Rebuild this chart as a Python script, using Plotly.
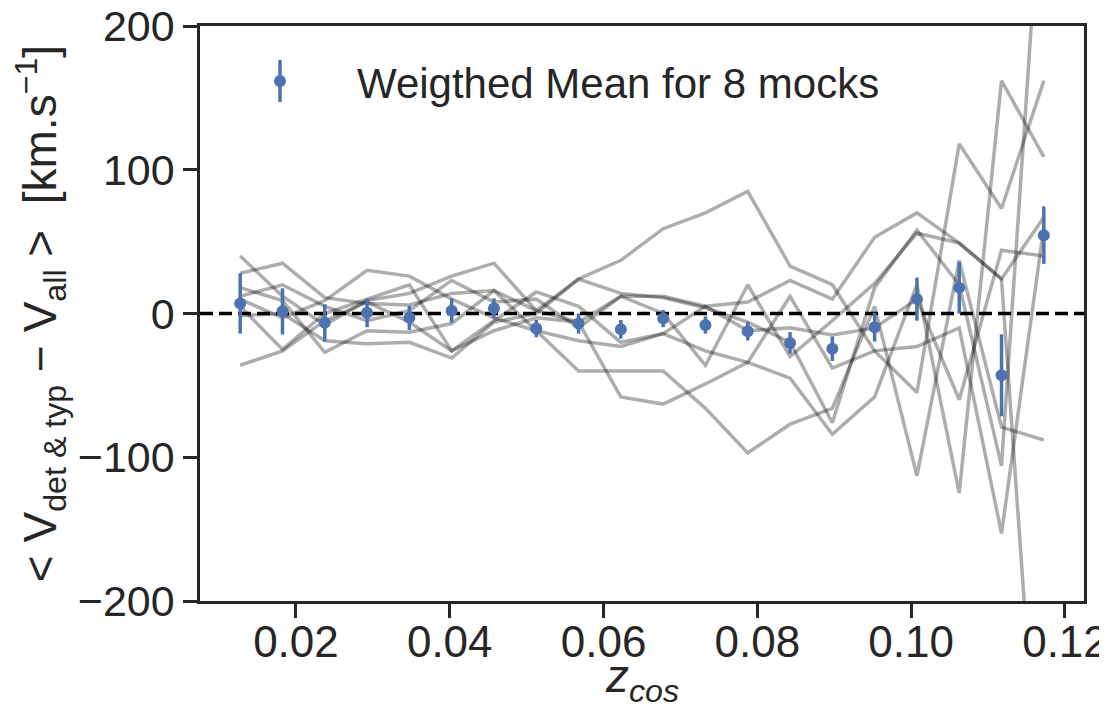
import plotly.graph_objects as go

# bin centres of z_cos (20 bins between 0.01 and 0.12)
z_bins = [0.01275, 0.01825, 0.02375, 0.02925, 0.03475, 0.04025, 0.04575, 0.05125,
          0.05675, 0.06225, 0.06775, 0.07325, 0.07875, 0.08425, 0.08975, 0.09525,
          0.10075, 0.10625, 0.11175, 0.11725]

# weighted mean over the 8 mocks and its uncertainty
mean_vals = [7, 1.5, -6.5, 0.5, -3, 2, 3.5, -10.5, -7, -11, -3.5, -8, -12.3, -20.5,
             -24.5, -9.5, 10, 18, -43, 54.5]
mean_errs = [21, 16, 13, 10, 8.5, 8.5, 7, 6, 7, 6.5, 6, 6, 6.5, 7.5, 8.5, 10, 15, 18,
             28.5, 20]

# individual mocks
mock1 = [28, 35, 11, 7, 6, 14, 16, 2, 24, 37, 59, 70, 85, 33, 20, -26, -55, 118, 73, 162]
mock2 = [40, 12, -8, 9, 14, 26, 35, 2, -6, 12, 12, 5, 8, 23, 10, 53, 70, 49, 24, 67]
mock3 = [18, 9, -27, -12, -13, -7, 16, -12, -19, -23, -14, -26, -34, -45, -84, -58, 20, -125, 162, 109]
mock4 = [10, -3, 9, 30, 26, 10, -3, -12, -40, -40, -40, -66, -97, -77, -66, 5, -113, 37, -79, -88]
mock5 = [-1.5, 0, -19, -21, -20, -31, -6, 0, 24, 14, 11, 4, -6, -20, -76, 18, 58, 20, -106, 330]
mock6 = [-36, -26, -5, 8, -6, -26, -12, -3, -6, -58, -63, -49, -34, 12, -38, -26, -23, -10, -153, 60]
mock7 = [12, 20, 5, -5, 2, 23, 8, 10, -10, 12, 0, -36, 20, -30, -5, 21, 56, 49, 24, -395]
mock8 = [5, -25, 0, 10, 20, -26, -5, 15, 5, -20, -14, 5, -12, -10, -15, -10, 10, -60, 44, 40]
mocks = [mock1, mock2, mock3, mock4, mock5, mock6, mock7, mock8]

x_ticks = [0.02, 0.04, 0.06, 0.08, 0.10, 0.12]
x_tick_labels = ["0.02", "0.04", "0.06", "0.08", "0.10", "0.12"]
y_ticks = [-200, -100, 0, 100, 200]
y_tick_labels = ["\u2212200", "\u2212100", "0", "100", "200"]
legend_label = "Weigthed Mean for 8 mocks"
x_title = "<i>z<sub>cos</sub></i>"
y_title = "&lt; V<sub>det & typ</sub> \u2212 V<sub>all</sub> &gt;  [km.s<sup>\u22121</sup>]"

BLUE = "#4C72B0"
INK = "#262626"
FONT = "Liberation Sans, Arial, Helvetica, sans-serif"

# The page body has an 8px margin, so the figure is sized to fit inside the window.
OFF = 8
W, H = 1107 - OFF, 715 - 2 * OFF
# plot area in window pixels
X0, X1, Y0, Y1 = 200, 1084, 26, 601
L, T = X0 - OFF, Y0 - OFF
R, B = (OFF + W) - X1, (OFF + H) - Y1


def px(x):
    return (x - X0) / (X1 - X0)


def py(y):
    return (Y1 - y) / (Y1 - Y0)


fig = go.Figure()

for m in mocks:
    fig.add_trace(go.Scatter(
        x=z_bins, y=m, mode="lines",
        line=dict(color="rgba(0,0,0,0.32)", width=3.5),
        showlegend=False, hoverinfo="skip"))

fig.add_hline(y=0, line=dict(color="black", width=3.5, dash="13px,6px"), layer="below")

fig.add_trace(go.Scatter(
    x=z_bins, y=mean_vals, mode="markers",
    name=legend_label, showlegend=False,
    marker=dict(color=BLUE, size=12),
    error_y=dict(type="data", array=mean_errs, visible=True, color=BLUE,
                 thickness=3.5, width=0),
))

# legend (error-bar glyph + label), drawn in paper coordinates
fig.add_shape(type="line", xref="paper", yref="paper",
              x0=px(280), x1=px(280), y0=py(60), y1=py(102),
              line=dict(color=BLUE, width=3.5))
fig.add_shape(type="circle", xref="paper", yref="paper",
              x0=px(274), x1=px(286), y0=py(75), y1=py(87),
              fillcolor=BLUE, line=dict(color=BLUE, width=0))
fig.add_annotation(text=legend_label, xref="paper", yref="paper",
                   x=px(355), y=py(83), xanchor="left", yanchor="middle",
                   showarrow=False, font=dict(size=42, color=INK))

# x-axis title placed as text below the tick labels
fig.add_annotation(text=x_title, xref="paper", yref="paper",
                   x=0.5, y=py(679), xanchor="center", yanchor="middle",
                   showarrow=False, font=dict(size=46, color=INK))

xr = [z_bins[0] - 0.05 * (z_bins[-1] - z_bins[0]), z_bins[-1] + 0.05 * (z_bins[-1] - z_bins[0])]

fig.update_layout(
    width=W, height=H,
    margin=dict(l=L, r=R, t=T, b=B),
    paper_bgcolor="white", plot_bgcolor="white",
    font=dict(family=FONT, size=42, color=INK),
    showlegend=False,
    xaxis=dict(range=xr, tickvals=x_ticks, ticktext=x_tick_labels,
               ticks="outside", ticklen=14, tickwidth=2.5, tickcolor=INK,
               showline=True, linecolor=INK, linewidth=2.5, mirror=True,
               showgrid=False, zeroline=False, automargin=False,
               ticklabeloverflow="allow", ticklabelstandoff=-14,
               tickfont=dict(size=44)),
    yaxis=dict(range=[-200, 200], tickvals=y_ticks, ticktext=y_tick_labels,
               ticks="outside", ticklen=14, tickwidth=2.5, tickcolor=INK,
               showline=True, linecolor=INK, linewidth=2.5, mirror=True,
               showgrid=False, zeroline=False, automargin=False,
               ticklabeloverflow="allow",
               tickfont=dict(size=43),
               title=dict(text=y_title, font=dict(size=46), standoff=21)),
)

fig.write_html("out.html")
